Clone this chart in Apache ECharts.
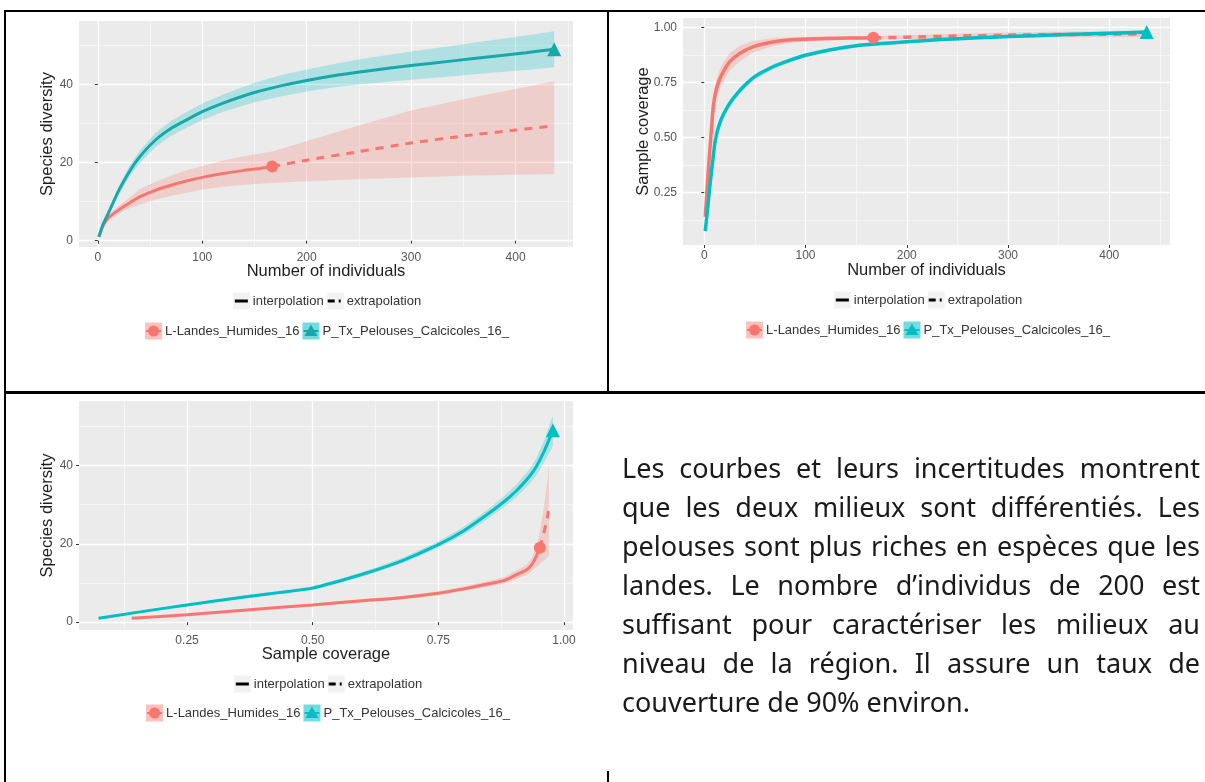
<!DOCTYPE html>
<html lang="fr">
<head>
<meta charset="utf-8">
<title>Courbes de raréfaction – landes et pelouses</title>
<script src="https://cdn.jsdelivr.net/npm/echarts@6.0.0/dist/echarts.min.js"></script>
<style>
  html, body { margin: 0; padding: 0; background: #fff; }
  #page { position: relative; width: 1205px; height: 782px; overflow: hidden; }
  #chart { position: absolute; left: 0; top: 0; width: 1205px; height: 782px; }
  .rule { position: absolute; background: #000; }
  #note {
    position: absolute; left: 622px; top: 448px; width: 578px;
    font-family: "Noto Sans", "Open Sans", sans-serif; font-size: 27px; line-height: 39px; color: #1a1a1a;
  }
  #note .ln { text-align: justify; text-align-last: justify; }
  #note .ln.last { text-align-last: left; }
</style>
</head>
<body>
<div id="page">
  <div id="chart"></div>
  <!-- table rules -->
  <div class="rule" style="left:4px;top:10px;width:1201px;height:2px"></div>
  <div class="rule" style="left:4px;top:10px;width:2px;height:772px"></div>
  <div class="rule" style="left:607px;top:10px;width:2px;height:382px"></div>
  <div class="rule" style="left:4px;top:391px;width:1201px;height:3px"></div>
  <div class="rule" style="left:607px;top:771px;width:2px;height:11px"></div>
  <div id="note">
    <div class="ln">Les courbes et leurs incertitudes montrent</div>
    <div class="ln">que les deux milieux sont différentiés. Les</div>
    <div class="ln">pelouses sont plus riches en espèces que les</div>
    <div class="ln">landes. Le nombre d’individus de 200 est</div>
    <div class="ln">suffisant pour caractériser les milieux au</div>
    <div class="ln">niveau de la région. Il assure un taux de</div>
    <div class="ln last">couverture de 90% environ.</div>
  </div>
</div>
<script>
// ---------- Panel A: species diversity vs number of individuals ----------
const landesInterpN   = [1, 5, 10, 20, 30, 40, 55, 70, 85, 100, 120, 140, 155, 167];
const landesInterpS   = [1, 3.8, 5.8, 7.9, 9.6, 11.2, 12.9, 14.2, 15.3, 16.2, 17.2, 18.0, 18.5, 19.0];
const landesInterpLo  = [1, 3.4, 5.1, 6.9, 8.3, 9.2, 10.5, 11.5, 12.3, 13.1, 13.8, 14.3, 14.6, 14.8];
const landesInterpHi  = [1, 4.2, 6.5, 8.9, 10.9, 13.2, 15.0, 16.6, 18.0, 19.1, 20.5, 21.6, 22.3, 22.8];
const landesExtrapN   = [167, 200, 250, 300, 350, 400, 437];
const landesExtrapS   = [19.0, 20.6, 22.8, 25.0, 26.8, 28.3, 29.4];
const landesExtrapLo  = [14.8, 15.2, 15.7, 16.2, 16.6, 16.9, 17.1];
const landesExtrapHi  = [22.8, 25.5, 29.5, 33.3, 36.2, 38.8, 40.8];

const pelousesN  = [1, 5, 10, 20, 30, 40, 55, 70, 85, 100, 120, 150, 175, 200, 230, 260, 300, 340, 380, 410, 437];
const pelousesS  = [1, 4.2, 7.0, 12.8, 17.6, 21.4, 25.7, 28.7, 30.9, 33.0, 35.2, 37.9, 39.6, 41.0, 42.4, 43.5, 44.8, 46.0, 47.2, 48.1, 49.0];
const pelousesLo = [1, 3.8, 6.3, 11.7, 16.2, 19.8, 23.9, 26.8, 28.9, 30.9, 33.0, 35.4, 36.9, 38.2, 39.4, 40.2, 41.2, 42.1, 43.0, 43.7, 44.4];
const pelousesHi = [1, 4.6, 7.7, 13.9, 19.0, 23.0, 27.5, 30.6, 32.9, 35.1, 37.4, 40.4, 42.3, 43.8, 45.4, 46.8, 48.4, 49.9, 51.4, 52.5, 53.6];

// ---------- Panel B: sample coverage vs number of individuals ----------
const landesCovN    = [1, 4, 7, 9, 12, 17, 25, 35, 48, 68, 90, 120, 145, 167];
const landesCov     = [0.141, 0.355, 0.53, 0.645, 0.72, 0.782, 0.843, 0.881, 0.911, 0.933, 0.944, 0.949, 0.951, 0.952];
const landesCovLo   = [0.131, 0.325, 0.49, 0.60, 0.675, 0.737, 0.803, 0.846, 0.884, 0.915, 0.932, 0.940, 0.943, 0.945];
const landesCovHi   = [0.151, 0.385, 0.57, 0.69, 0.765, 0.827, 0.883, 0.916, 0.938, 0.951, 0.956, 0.958, 0.959, 0.959];
const landesCovExN  = [167, 200, 250, 300, 350, 400, 437];
const landesCovEx   = [0.952, 0.955, 0.960, 0.964, 0.967, 0.969, 0.970];
const landesCovExLo = [0.945, 0.946, 0.949, 0.952, 0.954, 0.955, 0.956];
const landesCovExHi = [0.959, 0.964, 0.971, 0.976, 0.980, 0.983, 0.984];

const pelousesCovN  = [1, 4, 6, 8, 11, 16, 24, 35, 50, 68, 85, 100, 125, 150, 175, 200, 233, 270, 300, 350, 400, 437];
const pelousesCov   = [0.076, 0.21, 0.30, 0.38, 0.49, 0.575, 0.647, 0.713, 0.776, 0.821, 0.851, 0.873, 0.898, 0.916, 0.926, 0.934, 0.944, 0.952, 0.958, 0.966, 0.973, 0.978];
const pelousesCovLo = [0.071, 0.195, 0.282, 0.36, 0.47, 0.557, 0.631, 0.699, 0.764, 0.81, 0.841, 0.864, 0.89, 0.909, 0.919, 0.928, 0.938, 0.946, 0.952, 0.96, 0.967, 0.972];
const pelousesCovHi = [0.081, 0.225, 0.318, 0.40, 0.51, 0.593, 0.663, 0.727, 0.788, 0.832, 0.861, 0.882, 0.906, 0.923, 0.933, 0.94, 0.95, 0.958, 0.964, 0.972, 0.979, 0.984];

// ---------- Panel C: species diversity vs sample coverage ----------
const landesSC      = [0.14, 0.25, 0.375, 0.5, 0.6, 0.672, 0.75, 0.8, 0.843, 0.88, 0.905, 0.925, 0.936, 0.945, 0.952];
const landesSCS     = [1.0, 1.9, 3.2, 4.4, 5.5, 6.2, 7.4, 8.5, 9.6, 10.6, 12.1, 13.3, 14.7, 16.8, 19.0];
const landesSCLo    = [0.9, 1.7, 3.0, 4.1, 5.1, 5.8, 6.9, 7.9, 8.9, 9.8, 11.0, 12.0, 13.0, 14.0, 14.8];
const landesSCHi    = [1.1, 2.1, 3.4, 4.7, 5.9, 6.6, 7.9, 9.1, 10.3, 11.4, 13.2, 14.6, 16.4, 19.4, 22.8];
const landesSCEx    = [0.952, 0.955, 0.960, 0.964, 0.967, 0.969, 0.970];
const landesSCExS   = [19.0, 20.6, 22.8, 25.0, 26.8, 28.3, 29.4];
const landesSCExLo  = [14.8, 15.2, 15.7, 16.2, 16.6, 16.9, 17.1];
const landesSCExHi  = [22.8, 25.5, 29.5, 33.3, 36.2, 38.8, 40.8];

const pelousesSC    = [0.074, 0.15, 0.25, 0.375, 0.5, 0.55, 0.618, 0.68, 0.75, 0.80, 0.843, 0.88, 0.905, 0.93, 0.944, 0.96, 0.978];
const pelousesSCS   = [1.0, 2.5, 4.4, 6.6, 8.7, 10.4, 13.0, 15.8, 19.8, 23.3, 27.1, 30.7, 33.5, 37.0, 39.5, 43.5, 49.0];
const pelousesSCLo  = [0.9, 2.3, 4.1, 6.2, 8.2, 9.9, 12.4, 15.1, 19.0, 22.3, 25.9, 29.3, 31.9, 35.1, 37.3, 40.7, 45.0];
const pelousesSCHi  = [1.1, 2.7, 4.7, 7.0, 9.2, 10.9, 13.6, 16.5, 20.6, 24.3, 28.3, 32.1, 35.1, 38.9, 41.7, 46.3, 53.0];

// Observed samples: [individuals, species, coverage]
const landesObs   = [167, 19.0, 0.952];
const pelousesObs = [437, 49.0, 0.978];

// Tick values and labels
const individualsTicks = [0, 100, 200, 300, 400];
const individualsMinor = [50, 150, 250, 350, 450];
const diversityTicks   = [0, 20, 40];
const diversityMinor   = [10, 30, 50];
const coverageTicks    = [0.25, 0.5, 0.75, 1.0];
const coverageMinor    = [0.125, 0.375, 0.625, 0.875];

const methodLabels = ['interpolation', 'extrapolation'];
const siteLabels   = ['L-Landes_Humides_16', 'P_Tx_Pelouses_Calcicoles_16_'];

// ---------- styling helpers ----------
const RED = '#F8766D';
const CYAN = '#00BFC4';
const CYAN_DARK = '#15A9A9';
const RED_BAND = 'rgba(248,118,109,0.25)';
const CYAN_BAND = 'rgba(0,191,196,0.25)';
const FONT = '"Liberation Sans", Arial, Helvetica, sans-serif';

function pairs(xs, ys) { return xs.map((x, i) => [x, ys[i]]); }
function triples(xs, lo, hi) { return xs.map((x, i) => [x, lo[i], hi[i]]); }
function joinRows(a, b) { return a.concat(b.slice(1)); }

// Confidence ribbon: one polygon through the upper bounds and back along the lower bounds
function band(k, data, fill) {
  return {
    type: 'custom', xAxisIndex: 2 * k, yAxisIndex: 2 * k, silent: true, z: 2,
    data: data, encode: { x: 0, y: [1, 2] },
    renderItem: function (params, api) {
      if (params.dataIndex !== 0) return null;
      const upper = data.map(r => api.coord([r[0], r[2]]));
      const lower = data.map(r => api.coord([r[0], r[1]])).reverse();
      return { type: 'polygon', shape: { points: upper.concat(lower) }, style: { fill: fill } };
    }
  };
}

function curve(k, data, color, width, dashed) {
  return {
    type: 'line', xAxisIndex: 2 * k, yAxisIndex: 2 * k, data: data,
    symbol: 'none', showSymbol: false, smooth: 0.2, silent: true, z: 3,
    lineStyle: { color: color, width: width, type: dashed ? [8, 7] : 'solid' }
  };
}

function marker(k, pt, symbol, size, color) {
  return {
    type: 'scatter', xAxisIndex: 2 * k, yAxisIndex: 2 * k, data: [pt],
    symbol: symbol, symbolSize: size, silent: true, z: 4, itemStyle: { color: color, opacity: 1 }
  };
}

function axisSet(dim, k, min, max, majors, minors, decimals, title, gap) {
  const pos = dim === 'x' ? 'bottom' : 'left';
  return [{
    type: 'value', gridIndex: k, min: min, max: max, position: pos,
    axisLine: { show: false },
    axisTick: { show: true, length: 3, customValues: majors, lineStyle: { color: '#333', width: 1 } },
    axisLabel: {
      customValues: majors, margin: dim === 'x' ? 5 : 6, fontFamily: FONT, fontSize: 12, color: '#555',
      formatter: v => Number(v).toFixed(decimals)
    },
    splitLine: { show: true, lineStyle: { color: '#ffffff', width: 1.3 } },
    name: title, nameLocation: 'middle', nameGap: gap, nameMoveOverlap: false,
    nameTextStyle: { fontFamily: FONT, fontSize: 16.5, color: '#1e1e1e' }
  }, {
    type: 'value', gridIndex: k, min: min, max: max, position: pos,
    axisLine: { show: false },
    axisTick: { show: false, customValues: minors },
    axisLabel: { show: false },
    splitLine: { show: true, lineStyle: { color: 'rgba(255,255,255,0.85)', width: 0.6 } }
  }];
}

// ---------- legends (line type + site keys) ----------
const measureCtx = document.createElement('canvas').getContext('2d');
const LEG_FONT = '13px ' + FONT;
function textW(t) { measureCtx.font = LEG_FONT; return measureCtx.measureText(t).width; }

function legendText(x, y, t) {
  return {
    type: 'text', x: x, y: y, silent: true,
    style: { text: t, font: LEG_FONT, fill: '#333', textAlign: 'left', textVerticalAlign: 'middle', align: 'left', verticalAlign: 'middle' }
  };
}

function legend(cx, y1, y2, cyanColor) {
  const els = [];
  const K = 17, G = 3, GI = 3;
  // line type row
  let w = 0;
  methodLabels.forEach((t, i) => { w += K + G + textW(t) + (i ? GI : 0); });
  let x = cx - w / 2;
  methodLabels.forEach((t, i) => {
    if (i) x += GI;
    els.push({ type: 'rect', silent: true, shape: { x: x, y: y1 - K / 2, width: K, height: K }, style: { fill: '#F2F2F2' } });
    if (i === 0) {
      els.push({ type: 'line', silent: true, shape: { x1: x + 2, y1: y1, x2: x + K - 2, y2: y1 }, style: { stroke: '#000', lineWidth: 3 } });
    } else {
      els.push({ type: 'line', silent: true, shape: { x1: x + 1, y1: y1, x2: x + 8, y2: y1 }, style: { stroke: '#000', lineWidth: 3 } });
      els.push({ type: 'line', silent: true, shape: { x1: x + 12, y1: y1, x2: x + 14, y2: y1 }, style: { stroke: '#000', lineWidth: 3 } });
    }
    els.push(legendText(x + K + G, y1, t));
    x += K + G + textW(t);
  });
  // site row
  const fills = ['rgba(248,118,109,0.45)', 'rgba(0,191,196,0.55)'];
  const strokes = [RED, cyanColor];
  w = 0;
  siteLabels.forEach((t, i) => { w += K + G + textW(t) + (i ? GI : 0); });
  x = cx - w / 2;
  siteLabels.forEach((t, i) => {
    if (i) x += GI;
    const mx = x + K / 2;
    els.push({ type: 'rect', silent: true, shape: { x: x, y: y2 - K / 2, width: K, height: K }, style: { fill: fills[i] } });
    els.push({ type: 'line', silent: true, shape: { x1: x + 1, y1: y2, x2: x + K - 1, y2: y2 }, style: { stroke: strokes[i], lineWidth: 2 } });
    if (i === 0) {
      els.push({ type: 'circle', silent: true, shape: { cx: mx, cy: y2, r: 5.5 }, style: { fill: RED } });
    } else {
      els.push({ type: 'polygon', silent: true, shape: { points: [[mx, y2 - 6.5], [mx - 6.5, y2 + 5], [mx + 6.5, y2 + 5]] }, style: { fill: cyanColor } });
    }
    els.push(legendText(x + K + G, y2, t));
    x += K + G + textW(t);
  });
  return els;
}

// ---------- assemble ----------
const gridBase = { show: true, backgroundColor: '#EBEBEB', borderWidth: 0, borderColor: 'transparent', containLabel: false, outerBoundsMode: 'none' };

const option = {
  animation: false,
  backgroundColor: '#ffffff',
  grid: [
    Object.assign({ left: 79, top: 21, width: 494, height: 226 }, gridBase),
    Object.assign({ left: 683, top: 18, width: 487, height: 227 }, gridBase),
    Object.assign({ left: 79, top: 401, width: 494, height: 229 }, gridBase)
  ],
  xAxis: [].concat(
    axisSet('x', 0, -18, 455, individualsTicks, individualsMinor, 0, 'Number of individuals', 15.5),
    axisSet('x', 1, -21, 460, individualsTicks, individualsMinor, 0, 'Number of individuals', 17),
    axisSet('x', 2, 0.035, 1.018, coverageTicks, coverageMinor, 2, 'Sample coverage', 15.5)
  ),
  yAxis: [].concat(
    axisSet('y', 0, -1.6, 56.2, diversityTicks, diversityMinor, 0, 'Species diversity', 23.5),
    axisSet('y', 1, 0.013, 1.042, coverageTicks, coverageMinor, 2, 'Sample coverage', 31.5),
    axisSet('y', 2, -2.0, 56.5, diversityTicks, diversityMinor, 0, 'Species diversity', 23.5)
  ),
  series: [
    // Panel A
    band(0, joinRows(triples(landesInterpN, landesInterpLo, landesInterpHi), triples(landesExtrapN, landesExtrapLo, landesExtrapHi)), RED_BAND),
    band(0, triples(pelousesN, pelousesLo, pelousesHi), CYAN_BAND),
    curve(0, pairs(landesInterpN, landesInterpS), RED, 3, false),
    curve(0, pairs(landesExtrapN, landesExtrapS), RED, 3, true),
    curve(0, pairs(pelousesN, pelousesS), CYAN_DARK, 3, false),
    marker(0, [landesObs[0], landesObs[1]], 'circle', 12, RED),
    marker(0, [pelousesObs[0], pelousesObs[1]], 'triangle', 14, CYAN_DARK),
    // Panel B
    band(1, joinRows(triples(landesCovN, landesCovLo, landesCovHi), triples(landesCovExN, landesCovExLo, landesCovExHi)), RED_BAND),
    band(1, triples(pelousesCovN, pelousesCovLo, pelousesCovHi), CYAN_BAND),
    curve(1, pairs(landesCovN, landesCov), RED, 3.5, false),
    curve(1, pairs(landesCovExN, landesCovEx), RED, 3.5, true),
    curve(1, pairs(pelousesCovN, pelousesCov), CYAN, 3.5, false),
    marker(1, [landesObs[0], landesObs[2]], 'circle', 12, RED),
    marker(1, [pelousesObs[0], pelousesObs[2]], 'triangle', 14, CYAN),
    // Panel C
    band(2, joinRows(triples(landesSC, landesSCLo, landesSCHi), triples(landesSCEx, landesSCExLo, landesSCExHi)), RED_BAND),
    band(2, triples(pelousesSC, pelousesSCLo, pelousesSCHi), CYAN_BAND),
    curve(2, pairs(landesSC, landesSCS), RED, 3, false),
    curve(2, pairs(landesSCEx, landesSCExS), RED, 3, true),
    curve(2, pairs(pelousesSC, pelousesSCS), CYAN, 3, false),
    marker(2, [landesObs[2], landesObs[1]], 'circle', 12, RED),
    marker(2, [pelousesObs[2], pelousesObs[1]], 'triangle', 14, CYAN)
  ],
  graphic: {
    elements: [].concat(
      legend(327, 301, 331, CYAN_DARK),
      legend(928, 300, 330, CYAN),
      legend(328, 684, 713, CYAN)
    )
  }
};

const chart = echarts.init(document.getElementById('chart'), null, { renderer: 'canvas' });
chart.setOption(option);
</script>
</body>
</html>
